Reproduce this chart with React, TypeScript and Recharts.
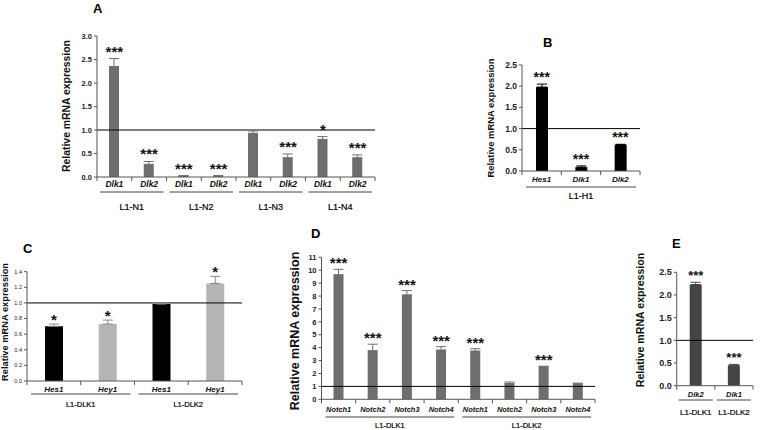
import React from 'react'
import {
  ComposedChart,
  Bar,
  Line,
  XAxis,
  YAxis,
  ReferenceLine,
  ErrorBar,
  LabelList,
  Cell,
} from 'recharts'

// Panel A – L1-N1..N4
const aGenes = ['Dlk1', 'Dlk2', 'Dlk1', 'Dlk2', 'Dlk1', 'Dlk2', 'Dlk1', 'Dlk2']
const aGroups = ['L1-N1', 'L1-N1', 'L1-N2', 'L1-N2', 'L1-N3', 'L1-N3', 'L1-N4', 'L1-N4']
const aValues = [2.35, 0.27, 0.02, 0.02, 0.93, 0.41, 0.8, 0.41]
const aErrors = [0.17, 0.06, 0.01, 0.01, 0.05, 0.08, 0.06, 0.06]
const aSig = ['***', '***', '***', '***', '', '***', '*', '***']
const aTicks = [0, 0.5, 1, 1.5, 2, 2.5, 3]

// Panel B – L1-H1
const bGenes = ['Hes1', 'Dlk1', 'Dlk2']
const bGroups = ['L1-H1', 'L1-H1', 'L1-H1']
const bValues = [1.98, 0.09, 0.62]
const bErrors = [0.07, 0.03, 0.01]
const bSig = ['***', '***', '***']
const bTicks = [0, 0.5, 1, 1.5, 2, 2.5]

// Panel C – Hes1 / Hey1
const cGenes = ['Hes1', 'Hey1', 'Hes1', 'Hey1']
const cGroups = ['L1-DLK1', 'L1-DLK1', 'L1-DLK2', 'L1-DLK2']
const cValues = [0.7, 0.73, 0.985, 1.25]
const cErrors = [0.03, 0.05, 0.015, 0.09]
const cSig = ['*', '*', '', '*']
const cTicks = [0, 0.2, 0.4, 0.6, 0.8, 1, 1.2, 1.4]

// Panel D – Notch receptors
const dGenes = ['Notch1', 'Notch2', 'Notch3', 'Notch4', 'Notch1', 'Notch2', 'Notch3', 'Notch4']
const dGroups = ['L1-DLK1', 'L1-DLK1', 'L1-DLK1', 'L1-DLK1', 'L1-DLK2', 'L1-DLK2', 'L1-DLK2', 'L1-DLK2']
const dValues = [9.65, 3.77, 8.09, 3.82, 3.74, 1.22, 2.53, 1.2]
const dErrors = [0.42, 0.5, 0.33, 0.26, 0.18, 0.12, 0.03, 0.05]
const dSig = ['***', '***', '***', '***', '***', '', '***', '']
const dTicks = [0, 1, 2, 3, 4, 5, 6, 7, 8, 9, 10, 11]

// Panel E – Dlk2 / Dlk1
const eGenes = ['Dlk2', 'Dlk1']
const eGroups = ['L1-DLK1', 'L1-DLK2']
const eValues = [2.23, 0.45]
const eErrors = [0.05, 0.02]
const eSig = ['***', '***']
const eTicks = [0, 0.5, 1, 1.5, 2, 2.5]

const FONT = '"Liberation Sans", Arial, sans-serif'

const makeRows = (genes: string[], groups: string[], values: number[], errors: number[], sig: string[]) =>
  genes.map((g, i) => ({
    key: `${groups[i]}-${g}-${i}`,
    gene: g,
    group: groups[i],
    value: values[i],
    err: errors[i],
    sig: sig[i],
    top: values[i] + errors[i],
  }))

const CatTick = (p: any) => {
  const { x, y, index, cfg } = p
  const { rows, bw } = cfg
  const r = rows[index]
  if (!r) return null
  const first = index === 0 || rows[index - 1].group !== r.group
  let n = 0
  if (first) while (index + n < rows.length && rows[index + n].group === r.group) n++
  const last = index === rows.length - 1
  return (
    <g>
      <line x1={x - bw / 2} x2={x - bw / 2} y1={y} y2={y + 4} stroke="#555" />
      {last && <line x1={x + bw / 2} x2={x + bw / 2} y1={y} y2={y + 4} stroke="#555" />}
      <text
        x={x}
        y={y + cfg.catDy}
        textAnchor="middle"
        dominantBaseline="central"
        fontStyle="italic"
        fontWeight="bold"
        fontSize={cfg.catFont}
        fontFamily={FONT}
        fill="#111"
      >
        {r.gene}
      </text>
      {first && (
        <>
          <line
            x1={x - bw / 2 + cfg.inset}
            x2={x - bw / 2 + n * bw - cfg.inset}
            y1={y + cfg.lineDy}
            y2={y + cfg.lineDy}
            stroke="#444"
          />
          <text
            x={x - bw / 2 + (n * bw) / 2}
            y={y + cfg.groupDy}
            textAnchor="middle"
            dominantBaseline="central"
            fontSize={cfg.groupFont}
            fontFamily={FONT}
            fill="#000"
            stroke="#000"
            strokeWidth={0.2}
          >
            {r.group}
          </text>
        </>
      )}
    </g>
  )
}

const StarLabel = (p: any) => {
  const { x, y, value, size, dy } = p
  if (!value) return null
  return (
    <text x={x} y={y - dy} textAnchor="middle" fontSize={size} fontWeight="bold" fontFamily={FONT} fill="#111">
      {value}
    </text>
  )
}

function Panel(props: any) {
  const { rows, left, top, width, height, margin, yWidth, xHeight, domain, ticks, fmt, barSize, color, cfg } = props
  const bw = (width - margin.left - margin.right - yWidth) / rows.length
  const tickCfg = { ...cfg, rows, bw }
  return (
    <div style={{ position: 'absolute', left, top, width, height }}>
      <ComposedChart width={width} height={height} data={rows} margin={margin}>
        <XAxis
          dataKey="key"
          height={xHeight}
          interval={0}
          tickLine={false}
          tickSize={0}
          tickMargin={0}
          stroke="#555"
          tick={(tp: any) => <CatTick {...tp} cfg={tickCfg} />}
        />
        <YAxis
          domain={domain}
          ticks={ticks}
          interval={0}
          tickFormatter={fmt}
          width={yWidth}
          tickSize={3}
          tickMargin={2}
          stroke="#555"
          allowDataOverflow
          tick={{ fontSize: cfg.tickFont, fontWeight: cfg.tickWeight, fill: '#222', fontFamily: FONT }}
        />
        <ReferenceLine y={1} stroke="#000" strokeWidth={1} />
        <Bar dataKey="value" barSize={barSize} isAnimationActive={false}>
          {rows.map((r: any, i: number) => (
            <Cell key={r.key} fill={color(i)} />
          ))}
          <ErrorBar dataKey={(d: any) => [0, d.err]} width={5} stroke={cfg.errColor} strokeWidth={1} />
        </Bar>
        <Line dataKey="top" stroke="none" dot={false} activeDot={false} isAnimationActive={false}>
          <LabelList dataKey="sig" content={(lp: any) => <StarLabel {...lp} size={cfg.starSize} dy={cfg.starDy} />} />
        </Line>
      </ComposedChart>
    </div>
  )
}

const f1 = (v: number) => v.toFixed(1)
const f0 = (v: number) => String(v)

const YLabel = ({ x, y, size, text }: any) => (
  <text
    x={x}
    y={y}
    transform={`rotate(-90 ${x} ${y})`}
    textAnchor="middle"
    dominantBaseline="central"
    fontSize={size}
    fontWeight="bold"
    fontFamily={FONT}
    fill="#111"
  >
    {text}
  </text>
)

const Title = ({ x, y, t }: any) => (
  <text x={x} y={y} fontSize={13} fontWeight="bold" fontFamily={FONT} fill="#000">
    {t}
  </text>
)

export default function App() {
  const aRows = makeRows(aGenes, aGroups, aValues, aErrors, aSig)
  const bRows = makeRows(bGenes, bGroups, bValues, bErrors, bSig)
  const cRows = makeRows(cGenes, cGroups, cValues, cErrors, cSig)
  const dRows = makeRows(dGenes, dGroups, dValues, dErrors, dSig)
  const eRows = makeRows(eGenes, eGroups, eValues, eErrors, eSig)
  const label = 'Relative mRNA expression'

  return (
    <div style={{ position: 'absolute', left: 0, top: 0, width: 760, height: 430, background: '#fff', overflow: 'hidden' }}>
      <Panel
        rows={aRows}
        left={40}
        top={20}
        width={345}
        height={200}
        margin={{ top: 16, right: 10, left: 0, bottom: 3 }}
        yWidth={57}
        xHeight={40}
        domain={[0, 3]}
        ticks={aTicks}
        fmt={f1}
        barSize={10}
        color={() => '#6e6e6e'}
        cfg={{ catDy: 7, lineDy: 15, groupDy: 30, catFont: 8.5, groupFont: 9, inset: 3, tickFont: 7.5, tickWeight: 'bold', starSize: 15, starDy: 2, errColor: '#6e6e6e' }}
      />
      <Panel
        rows={bRows}
        left={480}
        top={50}
        width={170}
        height={160}
        margin={{ top: 15, right: 10, left: 0, bottom: 3 }}
        yWidth={42}
        xHeight={36}
        domain={[0, 2.5]}
        ticks={bTicks}
        fmt={f1}
        barSize={12}
        color={() => '#000'}
        cfg={{ catDy: 8.3, lineDy: 16, groupDy: 25.3, catFont: 8, groupFont: 9, inset: 4, tickFont: 8.5, tickWeight: 'bold', starSize: 14, starDy: 2, errColor: '#000' }}
      />
      <Panel
        rows={cRows}
        left={0}
        top={250}
        width={250}
        height={170}
        margin={{ top: 21.7, right: 8, left: 0, bottom: 3 }}
        yWidth={27}
        xHeight={36}
        domain={[0, 1.4]}
        ticks={cTicks}
        fmt={f1}
        barSize={18}
        color={(i: number) => (i % 2 === 0 ? '#000' : '#b5b5b5')}
        cfg={{ catDy: 8, lineDy: 13, groupDy: 23, catFont: 8, groupFont: 7.5, inset: 4, tickFont: 5.5, tickWeight: 'normal', starSize: 15, starDy: -1, errColor: '#888' }}
      />
      <Panel
        rows={dRows}
        left={290}
        top={240}
        width={315}
        height={188}
        margin={{ top: 17.3, right: 10, left: 0, bottom: 1.7 }}
        yWidth={31.5}
        xHeight={27}
        domain={[0, 11]}
        ticks={dTicks}
        fmt={f0}
        barSize={10}
        color={() => '#6e6e6e'}
        cfg={{ catDy: 9.7, lineDy: 17.7, groupDy: 25.7, catFont: 7.4, groupFont: 7.5, inset: 4, tickFont: 7.5, tickWeight: 'bold', starSize: 15, starDy: 1, errColor: '#6e6e6e' }}
      />
      <Panel
        rows={eRows}
        left={640}
        top={255}
        width={120}
        height={170}
        margin={{ top: 17.3, right: 7, left: 0, bottom: 3.3 }}
        yWidth={36.7}
        xHeight={36}
        domain={[0, 2.5]}
        ticks={eTicks}
        fmt={f1}
        barSize={12}
        color={() => '#444'}
        cfg={{ catDy: 8.3, lineDy: 14.3, groupDy: 26.3, catFont: 7.5, groupFont: 8, inset: 2, tickFont: 9, tickWeight: 'bold', starSize: 13, starDy: 2, errColor: '#444' }}
      />
      <svg width={760} height={430} style={{ position: 'absolute', left: 0, top: 0, pointerEvents: 'none' }}>
        <Title x={93} y={13} t="A" />
        <Title x={543} y={47} t="B" />
        <Title x={23} y={253} t="C" />
        <Title x={311} y={238} t="D" />
        <Title x={672} y={248} t="E" />
        <YLabel x={66.7} y={106} size={10.4} text={label} />
        <YLabel x={490} y={118} size={9.4} text={label} />
        <YLabel x={5} y={322} size={9.3} text={label} />
        <YLabel x={295} y={331} size={12.5} text={label} />
        <YLabel x={640} y={320} size={10.6} text={label} />
      </svg>
    </div>
  )
}
